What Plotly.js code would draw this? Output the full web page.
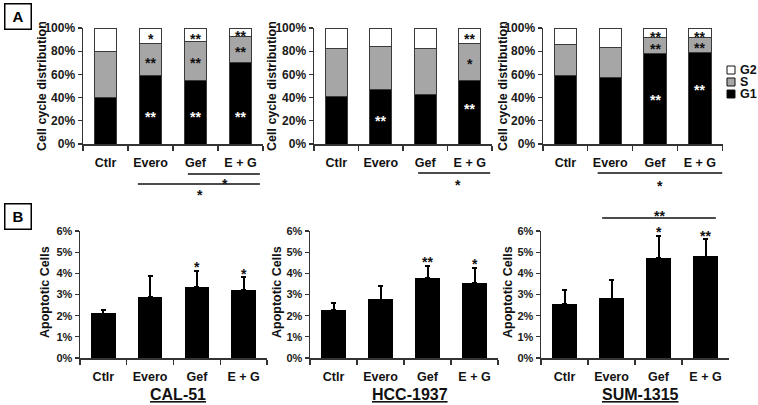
<!DOCTYPE html>
<html>
<head>
<meta charset="utf-8">
<script src="https://cdn.plot.ly/plotly-3.0.1.min.js"></script>
<style>html,body{margin:0;padding:0;background:#fff;}#chart{width:758px;height:405px;}</style>
</head>
<body>
<div id="chart"></div>
<script>
// ---------- data ----------
const categories = ['Ctlr', 'Evero', 'Gef', 'E + G'];
const cellLines = ['CAL-51', 'HCC-1937', 'SUM-1315'];
const phaseNames = ['G1', 'S', 'G2'];
const phaseColors = ['#000000', '#a6a6a6', '#ffffff'];

// cell cycle distribution (%), panel A
const cal51G1 = [40, 59, 55, 70.5];
const cal51S  = [40, 28, 33, 22];
const cal51G2 = [20, 13, 12, 7.5];
const hccG1 = [41, 47, 43, 55];
const hccS  = [41, 37, 39, 32];
const hccG2 = [18, 16, 18, 13];
const sumG1 = [59, 57, 78, 79];
const sumS  = [27, 26, 14, 12.5];
const sumG2 = [14, 17, 8, 8.5];

// apoptotic cells (%), panel B
const cal51Apo = [2.10, 2.86, 3.34, 3.19];
const cal51Err = [0.17, 1.02, 0.77, 0.63];
const hccApo = [2.26, 2.76, 3.77, 3.52];
const hccErr = [0.33, 0.65, 0.60, 0.75];
const sumApo = [2.54, 2.81, 4.71, 4.79];
const sumErr = [0.65, 0.88, 1.04, 0.81];

const cycleTicks = [0, 20, 40, 60, 80, 100];
const apoTicks = [0, 1, 2, 3, 4, 5, 6];

// ---------- build ----------
const W = 758, H = 405;
const FONT = 'Liberation Sans, Arial, sans-serif';
const px = v => v / W;
const py = v => (H - v) / H;

const cycleSets = [[cal51G1, cal51S, cal51G2], [hccG1, hccS, hccG2], [sumG1, sumS, sumG2]];
const apoSets = [[cal51Apo, cal51Err], [hccApo, hccErr], [sumApo, sumErr]];

const traces = [];
cycleSets.forEach((set, i) => {
  const ax = i === 0 ? '' : String(i + 1);
  set.forEach((vals, k) => {
    traces.push({
      type: 'bar', x: categories, y: vals, name: phaseNames[k],
      xaxis: 'x' + ax, yaxis: 'y' + ax, showlegend: false,
      marker: {color: phaseColors[k], line: {color: '#3a3a3a', width: 1}},
      hoverinfo: 'skip'
    });
  });
});
apoSets.forEach((set, i) => {
  const ax = String(i + 4);
  traces.push({
    type: 'bar', x: categories, y: set[0], name: cellLines[i],
    xaxis: 'x' + ax, yaxis: 'y' + ax, showlegend: false,
    marker: {color: '#000000', line: {color: '#000', width: 1}},
    error_y: {type: 'data', symmetric: false, array: set[1], arrayminus: set[1].map(() => 0),
              color: '#000', thickness: 2, width: 2.5},
    hoverinfo: 'skip'
  });
});

const topDom = [py(144), py(28)];
const botDom = [py(358), py(231)];
const xDoms = [
  [px(83), px(263)], [px(314), px(492)], [px(543), px(723)],
  [px(80), px(267)], [px(310), px(498)], [px(541), px(729)]
];

const tickFont = {family: FONT, size: 12, color: '#1a1a1a', weight: 'bold'};
const catFont = {family: FONT, size: 12.5, color: '#111', weight: 'bold'};

const layout = {
  width: W, height: H,
  margin: {l: 0, r: 0, t: 0, b: 0},
  paper_bgcolor: '#fff', plot_bgcolor: 'rgba(0,0,0,0)',
  barmode: 'stack', bargap: 0.5,
  showlegend: false,
  annotations: [], shapes: []
};

for (let i = 0; i < 6; i++) {
  const n = i === 0 ? '' : String(i + 1);
  const isTop = i < 3;
  const tv = isTop ? cycleTicks : apoTicks;
  layout['xaxis' + n] = {
    domain: xDoms[i], anchor: 'y' + n, type: 'category',
    showline: true, linecolor: '#333', linewidth: 1.5,
    ticks: 'outside', tickson: 'boundaries', ticklen: 5, tickcolor: '#333', tickwidth: 1.2,
    tickfont: catFont, ticklabelstandoff: 6, showgrid: false, zeroline: false, fixedrange: true
  };
  layout['yaxis' + n] = {
    domain: isTop ? topDom : botDom, anchor: 'x' + n,
    range: isTop ? [0, 100] : [0, 6],
    tickmode: 'array', tickvals: tv, ticktext: tv.map(v => v + '%'),
    showline: true, linecolor: '#333', linewidth: 1.5,
    ticks: 'outside', ticklen: 4, tickcolor: '#333', tickwidth: 1.2,
    tickfont: isTop ? tickFont : Object.assign({}, tickFont, {size: 11}),
    showgrid: false, zeroline: false, fixedrange: true
  };
}

function note(o) {
  layout.annotations.push(Object.assign({showarrow: false, xanchor: 'center', yanchor: 'middle'}, o));
}

// axis titles
const topTitleX = [42, 272, 503];
const botTitleX = [45, 277, 508];
topTitleX.forEach(x => note({
  xref: 'paper', yref: 'paper', x: px(x), y: py(86), text: 'Cell cycle distribution',
  textangle: -90, font: {family: FONT, size: 12.5, color: '#111', weight: 'bold'}
}));
botTitleX.forEach(x => note({
  xref: 'paper', yref: 'paper', x: px(x), y: py(292), text: 'Apoptotic Cells',
  textangle: -90, font: {family: FONT, size: 12.5, color: '#111', weight: 'bold'}
}));

// cell line names
const lineNameX = [178, 410, 640];
cellLines.forEach((nm, i) => note({
  xref: 'paper', yref: 'paper', x: px(lineNameX[i]), y: py(394), text: nm,
  font: {family: FONT, size: 16, color: '#111', weight: 'bold', lineposition: 'under'}
}));

// panel letters
[['A', 16], ['B', 216]].forEach(([t, y]) => note({
  xref: 'paper', yref: 'paper', x: px(17.5), y: py(y), text: t,
  width: 25, height: 24, bordercolor: '#000', borderwidth: 1.5, borderpad: 0,
  font: {family: FONT, size: 15, color: '#000', weight: 'bold'}
}));

// significance stars (position given as fraction of the subplot's y domain)
function star(n, cat, frac, text, color) {
  note({
    xref: 'x' + n, yref: 'y' + n + ' domain', x: cat, y: frac, text: text, yshift: -4,
    font: {family: FONT, size: 14, color: color, weight: 'bold'}
  });
}
const B = '#111', Wh = '#fff';
const t = v => v / 100, b = v => v / 6;
star('', 'Evero', t(94), '*', B); star('', 'Gef', t(94), '**', B); star('', 'E + G', t(96.5), '**', B);
star('', 'Evero', t(73), '**', B); star('', 'Gef', t(73), '**', B); star('', 'E + G', t(82.7), '**', B);
star('', 'Evero', t(27), '**', Wh); star('', 'Gef', t(27), '**', Wh); star('', 'E + G', t(27), '**', Wh);
star('2', 'Evero', t(23.6), '**', Wh);
star('2', 'E + G', t(94), '**', B); star('2', 'E + G', t(72), '*', B); star('2', 'E + G', t(33.4), '**', Wh);
star('3', 'Gef', t(96), '**', B); star('3', 'Gef', t(85.4), '**', B); star('3', 'Gef', t(41.4), '**', Wh);
star('3', 'E + G', t(96), '**', B); star('3', 'E + G', t(86), '**', B); star('3', 'E + G', t(49.7), '**', Wh);
star('4', 'Gef', b(4.49), '*', B); star('4', 'E + G', b(4.16), '*', B);
star('5', 'Gef', b(4.72), '**', B); star('5', 'E + G', b(4.63), '*', B);
star('6', 'Gef', b(6.14), '*', B); star('6', 'E + G', b(5.95), '**', B);

// comparison brackets
function bracket(n, x0, x1, yPix, sx, syPix, text) {
  layout.shapes.push({type: 'line', xref: 'x' + n, yref: 'paper', x0: x0, x1: x1,
    y0: py(yPix), y1: py(yPix), line: {color: '#111', width: 1.5}});
  note({xref: 'x' + n, yref: 'paper', x: sx, y: py(syPix), text: text, yshift: -4,
    font: {family: FONT, size: 14, color: '#111', weight: 'bold'}});
}
bracket('', 1.83, 3.43, 174, 2.66, 180, '*');
bracket('', 0.72, 3.43, 184, 2.1, 191, '*');
bracket('2', 1.84, 3.46, 173, 2.74, 181, '*');
bracket('3', 0.72, 3.5, 173, 2.1, 182, '*');
bracket('6', 0.80, 3.22, 218, 2.03, 212, '**');

// legend (manual, tight spacing)
const legendY = [94, 82, 70];
phaseNames.forEach((nm, k) => {
  const yc = legendY[k];
  layout.shapes.push({type: 'rect', xref: 'paper', yref: 'paper',
    x0: px(727), x1: px(735), y0: py(yc + 4), y1: py(yc - 4),
    fillcolor: phaseColors[k], line: {color: '#111', width: 1}});
  note({xref: 'paper', yref: 'paper', x: px(738), y: py(yc), xanchor: 'left',
    text: nm, font: {family: FONT, size: 12.5, color: '#111', weight: 'bold'}});
});

Plotly.newPlot('chart', traces, layout, {displayModeBar: false, staticPlot: true});
</script>
</body>
</html>
